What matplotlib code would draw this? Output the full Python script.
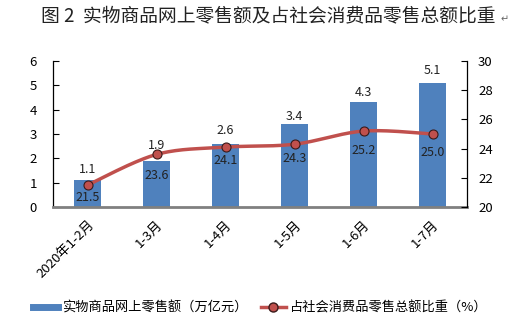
import numpy as np
import matplotlib
matplotlib.use("Agg")
import matplotlib.pyplot as plt
from matplotlib.lines import Line2D

plt.rcParams['font.family'] = ['Noto Sans CJK SC', 'DejaVu Sans']

categories = ["2020年1-2月", "1-3月", "1-4月", "1-5月", "1-6月", "1-7月"]
online_sales = [1.1, 1.9, 2.6, 3.4, 4.3, 5.1]
share_pct = [21.5, 23.6, 24.1, 24.3, 25.2, 25.0]
title = "图 2  实物商品网上零售额及占社会消费品零售总额比重"
legend_bar = "实物商品网上零售额（万亿元）"
legend_line = "占社会消费品零售总额比重（%）"

# label offsets (pixels): above bars, below line points
bar_label_offsets = [11, 15, 13, 8, 10, 12]
line_label_offsets = [12, 21, 13, 14, 19, 19]

bar_color = "#4F81BD"
line_color = "#C0504D"

fig = plt.figure(figsize=(5.18, 3.35), dpi=100)
ax = fig.add_axes([53/518, 1-207/335, (467-53)/518, (207-61)/335])
ax2 = ax.twinx()

x = np.arange(len(categories))
ax.bar(x, online_sales, width=0.4, color=bar_color, zorder=2)
ax.set_xlim(-0.5, len(categories)-0.5)
ax.set_ylim(0, 6)
ax.set_yticks(range(0, 7))
ax2.set_ylim(20, 30)
ax2.set_yticks(range(20, 31, 2))

# smooth curve (Excel-like Catmull-Rom Bezier) through data points
def smooth(xs, ys, n=30):
    xs = np.asarray(xs, float); ys = np.asarray(ys, float)
    px = np.concatenate([[xs[0]], xs, [xs[-1]]])
    py = np.concatenate([[ys[0]], ys, [ys[-1]]])
    ox, oy = [], []
    for i in range(1, len(px)-2):
        p0 = np.array([px[i-1], py[i-1]]); p1 = np.array([px[i], py[i]])
        p2 = np.array([px[i+1], py[i+1]]); p3 = np.array([px[i+2], py[i+2]])
        c1 = p1 + (p2 - p0) / 6
        c2 = p2 - (p3 - p1) / 6
        t = np.linspace(0, 1, n)[:, None]
        b = (1-t)**3*p1 + 3*(1-t)**2*t*c1 + 3*(1-t)*t**2*c2 + t**3*p2
        ox.extend(b[:, 0]); oy.extend(b[:, 1])
    return ox, oy

sx, sy = smooth(x, share_pct)
ax2.plot(sx, sy, color=line_color, lw=2.5, zorder=3)
ax2.plot(x, share_pct, 'o', color=line_color, mec='#3a1a1a', mew=0.8, ms=6.5, zorder=4)

for xi, v, off in zip(x, online_sales, bar_label_offsets):
    ax.annotate(f"{v:.1f}", (xi, v), xytext=(0, off*0.72), textcoords='offset points',
                ha='center', va='center', fontsize=9, color='#222222', zorder=6)
for xi, v, off in zip(x, share_pct, line_label_offsets):
    ax2.annotate(f"{v:.1f}", (xi, v), xytext=(0, -off*0.72), textcoords='offset points',
                 ha='center', va='center', fontsize=9, color='#222222', zorder=5)

for a in (ax, ax2):
    a.spines['top'].set_visible(False)
    a.tick_params(axis='y', direction='in', length=4, labelsize=9.5)
ax.spines['right'].set_visible(False)
ax.spines['left'].set_linewidth(0.9)
ax2.spines['right'].set_linewidth(0.9)
ax2.spines['left'].set_visible(False)
ax.spines['bottom'].set_color('#808080')
ax.spines['bottom'].set_linewidth(2)
ax2.spines['bottom'].set_visible(False)
ax.set_xticks(x)
ax.set_xticklabels(categories, rotation=45, ha='right', rotation_mode='anchor', fontsize=9.5)
ax.tick_params(axis='x', length=0, pad=8)
ax.tick_params(axis='y', pad=11.5)
ax2.tick_params(axis='y', pad=8)

fig.text(268/518, 1-16/335, title, ha='center', va='center', fontsize=13.5, color='#222222')
fig.text(501/518, 1-19/335, "↵", ha='left', va='center', fontsize=7, color='#666666')

handles = [Line2D([0], [0], color=bar_color, lw=5),
           Line2D([0], [0], color=line_color, lw=2.5, marker='o', ms=6.5, mfc=line_color, mec='#3a1a1a')]
fig.legend(handles, [legend_bar, legend_line], loc='center', bbox_to_anchor=(260/518, 1-308/335),
           ncol=2, frameon=False, fontsize=9.5, handlelength=1.9, columnspacing=1.0, handletextpad=0.3)

fig.savefig("out.png", dpi=100)
